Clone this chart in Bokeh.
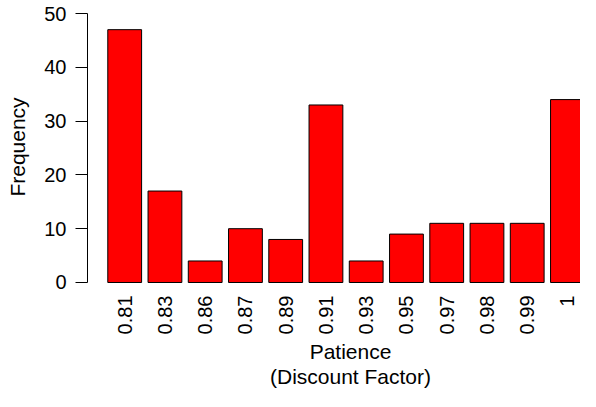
import math
from bokeh.plotting import figure
from bokeh.models import Range1d, FixedTicker, Title, LinearAxis
from bokeh.embed import file_html
from bokeh.resources import INLINE

# Data
categories = ["0.81", "0.83", "0.86", "0.87", "0.89", "0.91",
              "0.93", "0.95", "0.97", "0.98", "0.99", "1"]
frequencies = [47, 17, 4, 10, 8, 33, 4, 9, 11, 11, 11, 34]
y_ticks = [0, 10, 20, 30, 40, 50]
y_label = "Frequency"
x_label_lines = ["Patience", "(Discount Factor)"]

FONT = "Liberation Sans"
LABEL_PX = 21

positions = list(range(len(categories)))

p = figure(width=580, height=391, output_backend="svg", toolbar_location=None,
           title=None,
           x_range=Range1d(-0.924, 11.324), y_range=Range1d(-2.045, 52.42),
           min_border_left=87, min_border_right=0, min_border_top=0,
           min_border_bottom=98)
p.outline_line_color = None
p.xgrid.visible = False
p.ygrid.visible = False
p.background_fill_color = "white"
p.border_fill_color = "white"

p.vbar(x=positions, top=frequencies, width=0.84, bottom=0,
       fill_color="#FF0000", line_color="black", line_width=1)

# y axis
ya = p.yaxis[0]
ya.ticker = FixedTicker(ticks=y_ticks)
ya.bounds = (min(y_ticks), max(y_ticks))
ya.axis_line_color = "black"
ya.axis_line_width = 1
ya.major_tick_line_color = "black"
ya.major_tick_in = 0
ya.major_tick_out = 12
ya.minor_tick_line_color = None
ya.major_label_text_font = FONT
ya.major_label_text_font_size = "20px"
ya.major_label_text_color = "black"
ya.major_label_standoff = 9
ya.axis_label = y_label
ya.axis_label_text_font = FONT
ya.axis_label_text_font_size = f"{LABEL_PX}px"
ya.axis_label_text_font_style = "normal"
ya.axis_label_text_color = "black"
ya.axis_label_standoff = 12

# x axis (category labels, no line, no ticks)
xa = p.xaxis[0]
xa.ticker = FixedTicker(ticks=positions)
xa.major_label_overrides = {i: c for i, c in zip(positions, categories)}
xa.axis_line_color = None
xa.major_tick_line_color = None
xa.minor_tick_line_color = None
xa.major_tick_in = 0
xa.major_tick_out = 0
xa.major_label_orientation = math.pi / 2
xa.major_label_standoff = 2
xa.major_label_text_font = FONT
xa.major_label_text_font_size = "20px"
xa.major_label_text_color = "black"

# empty spacer axis to leave a gap before the x title lines
spacer = LinearAxis(ticker=FixedTicker(ticks=[]), axis_line_color=None,
                    major_tick_line_color=None, minor_tick_line_color=None,
                    major_tick_in=0, major_tick_out=8, major_label_standoff=0)
p.add_layout(spacer, "below")

# x title lines, centred as in the original plot region
center_px = 263  # measured from the frame's left edge
char_w = {"Patience": 3.891, "(Discount Factor)": 7.668}
for txt in x_label_lines:
    w = char_w[txt] * LABEL_PX
    t = Title(text=txt, align="left", offset=center_px - w / 2,
              text_font=FONT, text_font_size=f"{LABEL_PX}px",
              text_font_style="normal", text_color="black",
              vertical_align="bottom", standoff=0)
    p.add_layout(t, "below")

open("out.html", "w").write(file_html(p, INLINE))
